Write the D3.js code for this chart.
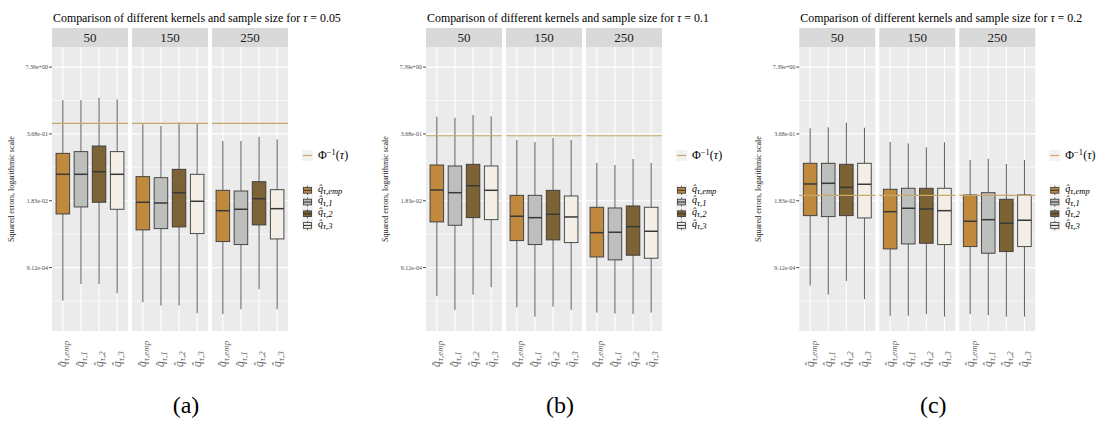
<!DOCTYPE html>
<html>
<head>
<script src="https://d3js.org/d3.v7.min.js"></script>
<style>
  body { margin: 0; background: #fff; }
  text { font-family: "Liberation Serif", "DejaVu Serif", serif; }
</style>
</head>
<body>
<script>
// sample sizes (facets) and kernels (x categories / legend)
var sizes = ["50", "150", "250"];
var kernels = ["emp", "1", "2", "3"];
var kernelFills = ["#BF8A3E", "#BDBFBD", "#7D6236", "#F3EFE7"];

// one sub-figure per tau
var taus = ["0.05", "0.1", "0.2"];
var captions = ["(a)", "(b)", "(c)"];
var phiLines = [0.592, 0.339, 0.0234];

// y axis (log scale)
var yDomain = [5.3e-5, 18.2];
var yBreaks = [7.389, 0.3679, 0.01832, 0.000912];
var yBreakLabels = ["7.39e+00", "3.68e-01", "1.83e-02", "9.12e-04"];
var yMinor = [1.649, 0.0821, 0.00409, 0.000203];

// [lower whisker, Q1, median, Q3, upper whisker] per sample size, per kernel
var boxesA = [
  [[2.08e-4, 0.01013, 0.0601, 0.154, 1.68],
   [4.38e-4, 0.01387, 0.0601, 0.166, 1.68],
   [4.33e-4, 0.01713, 0.0675, 0.214, 1.86],
   [2.89e-4, 0.01251, 0.0601, 0.166, 1.74]],
  [[1.93e-4, 4.95e-3, 0.01713, 0.0540, 0.566],
   [1.66e-4, 5.24e-3, 0.01659, 0.0516, 0.524],
   [1.66e-4, 5.66e-3, 0.0263, 0.0752, 0.619],
   [1.18e-4, 4.19e-3, 0.0179, 0.0601, 0.573]],
  [[1.13e-4, 2.93e-3, 0.01175, 0.0293, 0.268],
   [1.41e-4, 2.56e-3, 0.01251, 0.0284, 0.268],
   [3.46e-4, 6.19e-3, 0.0201, 0.0431, 0.324],
   [1.41e-4, 3.30e-3, 0.01285, 0.0301, 0.289]]
];
var boxesB = [
  [[2.56e-4, 7.08e-3, 0.0297, 0.0912, 0.795],
   [1.37e-4, 6.10e-3, 0.0263, 0.0873, 0.760],
   [2.72e-4, 8.58e-3, 0.0360, 0.0941, 0.859],
   [3.78e-4, 7.84e-3, 0.0293, 0.0873, 0.810]],
  [[1.54e-4, 3.06e-3, 9.14e-3, 0.0234, 0.280],
   [1.01e-4, 2.56e-3, 8.58e-3, 0.0234, 0.256],
   [1.59e-4, 3.16e-3, 0.0100, 0.0293, 0.306],
   [1.37e-4, 2.80e-3, 8.86e-3, 0.0227, 0.280]],
  [[1.21e-4, 1.47e-3, 4.38e-3, 0.01369, 0.0998],
   [1.16e-4, 1.29e-3, 4.46e-3, 0.01326, 0.0912],
   [1.14e-4, 1.59e-3, 5.73e-3, 0.01451, 0.119],
   [1.21e-4, 1.39e-3, 4.66e-3, 0.01369, 0.0998]]
];
var boxesC = [
  [[4.07e-4, 9.39e-3, 0.0389, 0.0985, 0.473],
   [2.72e-4, 8.98e-3, 0.0401, 0.0985, 0.495],
   [5.02e-4, 9.39e-3, 0.0335, 0.0941, 0.608],
   [2.21e-4, 8.47e-3, 0.0384, 0.0985, 0.486]],
  [[1.05e-4, 2.11e-3, 0.01123, 0.0307, 0.256],
   [1.05e-4, 2.64e-3, 0.01309, 0.0321, 0.241],
   [1.13e-4, 2.72e-3, 0.01267, 0.0321, 0.202],
   [1.01e-4, 2.56e-3, 0.01175, 0.0321, 0.252]],
  [[1.13e-4, 2.34e-3, 7.31e-3, 0.0238, 0.114],
   [1.08e-4, 1.74e-3, 7.84e-3, 0.0263, 0.121],
   [1.01e-4, 1.87e-3, 6.68e-3, 0.0196, 0.0954],
   [1.01e-4, 2.34e-3, 7.64e-3, 0.0238, 0.114]]
];
var allBoxes = [boxesA, boxesB, boxesC];

var W = 1103, H = 421;
var svg = d3.select("body").append("svg")
  .attr("width", W).attr("height", H);

var offsets = [0, 374, 747.3];
var facetX0 = 52, facetW = 76, facetGap = 4;
var stripTop = 28, panelTop = 47, panelBottom = 331;

var y = d3.scaleLog().domain(yDomain).range([panelBottom, panelTop]);
var x = d3.scalePoint().domain(kernels).range([0, facetW]).padding(0.6);
var boxW = x.step() * 0.75;
var lineCol = "#383838";
var whiskCol = "#4a4a4a";

function qLabel(sel, k, size, subSize) {
  // q-hat with subscript tau,k
  sel.append("tspan").style("font-style", "italic").style("font-size", size + "px").text("q\u0302");
  sel.append("tspan").style("font-style", "italic").style("font-size", subSize + "px")
    .attr("dy", size * 0.25).text("\u03c4," + k);
}

allBoxes.forEach(function(boxes, p) {
  var g = svg.append("g").attr("transform", "translate(" + offsets[p] + ",0)");

  // title
  var t = g.append("text").attr("x", facetX0 + 1).attr("y", 21.5)
    .style("font-size", "11.9px").attr("fill", "#000");
  t.append("tspan").text("Comparison of different kernels and sample size for ");
  t.append("tspan").style("font-style", "italic").text("\u03c4");
  t.append("tspan").text(" = " + taus[p]);

  sizes.forEach(function(s, j) {
    var fx = facetX0 + j * (facetW + facetGap);
    var f = g.append("g").attr("transform", "translate(" + fx + ",0)");

    // strip
    f.append("rect").attr("x", 0).attr("y", stripTop).attr("width", facetW)
      .attr("height", panelTop - stripTop).attr("fill", "#D9D9D9");
    f.append("text").attr("x", facetW / 2).attr("y", (stripTop + panelTop) / 2 + 4.5)
      .attr("text-anchor", "middle").style("font-size", "13px").attr("fill", "#1A1A1A").text(s);

    // panel + grid
    f.append("rect").attr("x", 0).attr("y", panelTop).attr("width", facetW)
      .attr("height", panelBottom - panelTop).attr("fill", "#EBEBEB");
    yMinor.forEach(function(v) {
      f.append("line").attr("x1", 0).attr("x2", facetW).attr("y1", y(v)).attr("y2", y(v))
        .attr("stroke", "#fff").attr("stroke-width", 0.6);
    });
    yBreaks.forEach(function(v) {
      f.append("line").attr("x1", 0).attr("x2", facetW).attr("y1", y(v)).attr("y2", y(v))
        .attr("stroke", "#fff").attr("stroke-width", 1.1);
    });
    kernels.forEach(function(k) {
      f.append("line").attr("x1", x(k)).attr("x2", x(k)).attr("y1", panelTop).attr("y2", panelBottom)
        .attr("stroke", "#fff").attr("stroke-width", 1.1);
    });

    // boxes
    boxes[j].forEach(function(b, i) {
      var cx = x(kernels[i]);
      f.append("line").attr("x1", cx).attr("x2", cx).attr("y1", y(b[0])).attr("y2", y(b[1]))
        .attr("stroke", whiskCol).attr("stroke-width", 0.9);
      f.append("line").attr("x1", cx).attr("x2", cx).attr("y1", y(b[3])).attr("y2", y(b[4]))
        .attr("stroke", whiskCol).attr("stroke-width", 0.9);
      f.append("rect").attr("x", cx - boxW / 2).attr("y", y(b[3]))
        .attr("width", boxW).attr("height", y(b[1]) - y(b[3]))
        .attr("fill", kernelFills[i]).attr("stroke", lineCol).attr("stroke-width", 0.9);
      f.append("line").attr("x1", cx - boxW / 2).attr("x2", cx + boxW / 2)
        .attr("y1", y(b[2])).attr("y2", y(b[2]))
        .attr("stroke", lineCol).attr("stroke-width", 1.5);
    });

    // reference line
    f.append("line").attr("x1", 0).attr("x2", facetW)
      .attr("y1", y(phiLines[p])).attr("y2", y(phiLines[p]))
      .attr("stroke", "#C9A56B").attr("stroke-width", 1.2);

    // x labels
    kernels.forEach(function(k) {
      var lab = f.append("text")
        .attr("transform", "translate(" + (x(k) + 3.5) + ",367) rotate(-90)")
        .attr("fill", "#666");
      qLabel(lab, k, 11.5, 9);
    });
  });

  // y axis
  yBreaks.forEach(function(v, i) {
    g.append("line").attr("x1", facetX0 - 3).attr("x2", facetX0).attr("y1", y(v)).attr("y2", y(v))
      .attr("stroke", "#333").attr("stroke-width", 0.9);
    g.append("text").attr("x", facetX0 - 4).attr("y", y(v) + 2)
      .attr("text-anchor", "end").style("font-size", "6px").attr("fill", "#4D4D4D")
      .text(yBreakLabels[i]);
  });
  g.append("text")
    .attr("transform", "translate(14," + (panelTop + panelBottom) / 2 + ") rotate(-90)")
    .attr("text-anchor", "middle").style("font-size", "8px").attr("fill", "#1A1A1A")
    .text("Squared errors, logarithmic scale");

  // legend: reference line
  var lx = 302, kw = 11;
  g.append("rect").attr("x", lx).attr("y", 150).attr("width", kw).attr("height", kw).attr("fill", "#F2F2F2");
  g.append("line").attr("x1", lx + 1).attr("x2", lx + kw - 1).attr("y1", 155.5).attr("y2", 155.5)
    .attr("stroke", "#C9A56B").attr("stroke-width", 1.2);
  var pt = g.append("text").attr("x", 318).attr("y", 159).style("font-size", "12px").attr("fill", "#000");
  pt.append("tspan").text("\u03a6");
  pt.append("tspan").attr("dy", -4).style("font-size", "8.5px").text("\u22121");
  pt.append("tspan").attr("dy", 4).text("(");
  pt.append("tspan").style("font-style", "italic").text("\u03c4");
  pt.append("tspan").text(")");

  // legend: kernels
  kernels.forEach(function(k, i) {
    var ky = 184.5 + i * 11.7;
    g.append("rect").attr("x", lx).attr("y", ky).attr("width", kw).attr("height", 11.7).attr("fill", "#F2F2F2");
    g.append("line").attr("x1", lx + kw / 2).attr("x2", lx + kw / 2).attr("y1", ky + 1.2).attr("y2", ky + 10.5)
      .attr("stroke", whiskCol).attr("stroke-width", 0.8);
    g.append("rect").attr("x", lx + 1.4).attr("y", ky + 3).attr("width", kw - 2.8).attr("height", 5.7)
      .attr("fill", kernelFills[i]).attr("stroke", lineCol).attr("stroke-width", 0.8);
    g.append("line").attr("x1", lx + 1.4).attr("x2", lx + kw - 1.4).attr("y1", ky + 5.85).attr("y2", ky + 5.85)
      .attr("stroke", lineCol).attr("stroke-width", 1.1);
    var lt = g.append("text").attr("x", 318).attr("y", ky + 7).attr("fill", "#000");
    qLabel(lt, k, 10, 8.5);
  });

  // caption
  g.append("text").attr("x", 186).attr("y", 413).attr("text-anchor", "middle")
    .style("font-size", "24px").attr("fill", "#000").text(captions[p]);
});
</script>
</body>
</html>
